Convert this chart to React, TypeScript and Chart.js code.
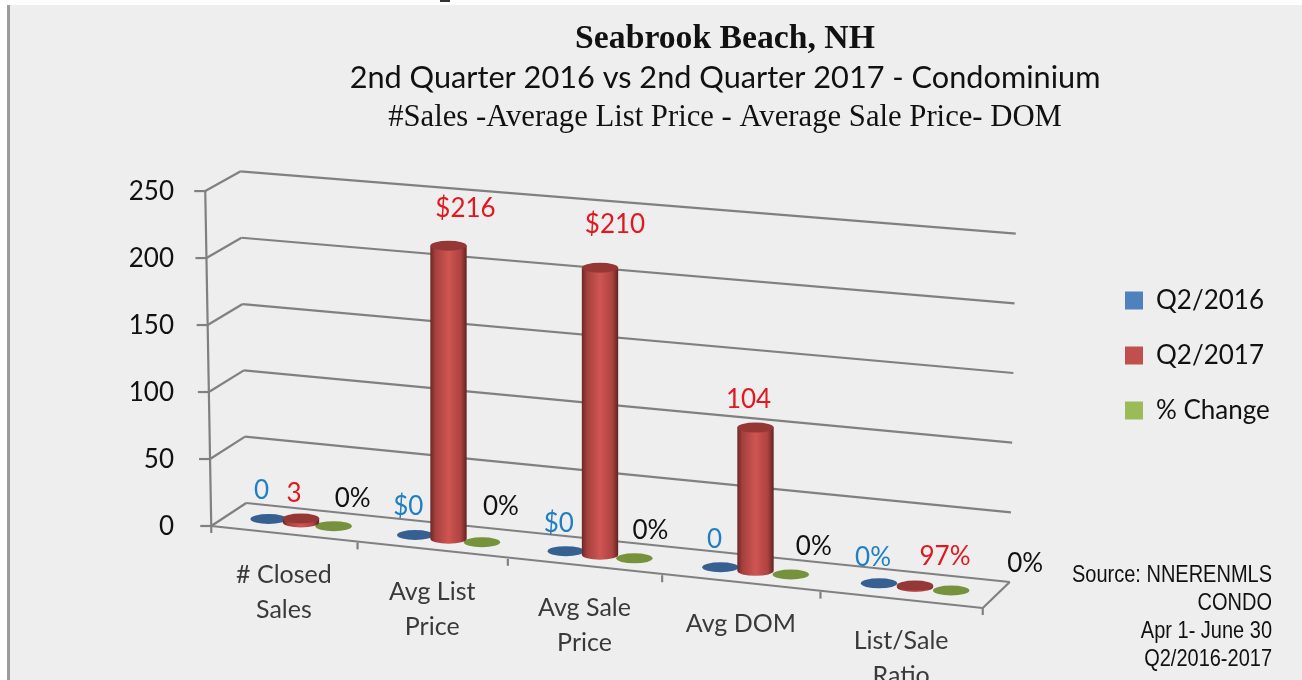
import React, { useEffect, useRef } from "react";
import { Chart, registerables } from "chart.js";

Chart.register(...registerables);

const categories = [["# Closed", "Sales"], ["Avg List", "Price"], ["Avg Sale", "Price"], ["Avg DOM"], ["List/Sale", "Ratio"]];
const seriesNames = ["Q2/2016", "Q2/2017", "% Change"];
const q2016 = [0, 0, 0, 0, 0];
const q2017 = [3, 216, 210, 104, 0.97];
const pctChange = [0, 0, 0, 0, 0];
const q2016Labels = ["0", "$0", "$0", "0", "0%"];
const q2017Labels = ["3", "$216", "$210", "104", "97%"];
const pctChangeLabels = ["0%", "0%", "0%", "0%", "0%"];
const titleLines = ["Seabrook Beach, NH", "2nd Quarter 2016 vs 2nd Quarter 2017 - Condominium", "#Sales -Average List Price - Average Sale Price- DOM"];
const sourceLines = ["Source: NNERENMLS", "CONDO", "Apr 1- June 30", "Q2/2016-2017"];

const seriesColors = ["#4f81bd", "#c0504d", "#9bbb59"];
const topColors = ["#366092", "#953735", "#76923c"];
const labelColors = ["#1f7fc1", "#e0181f", "#111111"];
const labelTexts = [q2016Labels, q2017Labels, pctChangeLabels];
const labelShiftX = [[-7, -7, -7, -6, -6], [-7, 17, 15, -7, 30], [19, 19, 16, 23, 74]];
const labelShiftY = [[-28, -28, -28, -28, -26], [-25, -37, -43, -28, -29], [-28, -36, -28, -28, -27]];

const SANS = "Lato";
const GRID = "#808080";

function project(chart: any, px: number, py: number, d: number, lean = true) {
  const { left, right, top, bottom } = chart.chartArea;
  const u = (px - left) / (right - left);
  const rise = bottom - py;
  const h = rise / (bottom - top);
  const x = 228.75 + 717.5 * u + 50 * u * u + (d - 0.5) * (35 - 8 * u) + (lean ? (u - 0.5) * 12 * h : 0);
  const backEase = Math.max(0, d - 0.5) * 0.02 * (1 - u);
  const y = 514.5 + 80.5 * u - (d - 0.5) * (23 + 3 * u) - rise * (1 + 0.04 * u - backEase);
  return { x, y };
}

function segment(ctx: CanvasRenderingContext2D, a: any, b: any) {
  ctx.beginPath();
  ctx.moveTo(a.x, a.y);
  ctx.lineTo(b.x, b.y);
  ctx.stroke();
}

function text(ctx: CanvasRenderingContext2D, s: string, x: number, y: number, font: string, color: string, align: CanvasTextAlign = "center") {
  ctx.font = font;
  ctx.fillStyle = color;
  ctx.textAlign = align;
  ctx.textBaseline = "middle";
  ctx.fillText(s, x, y);
}

function drawCylinder(ctx: CanvasRenderingContext2D, chart: any, el: any, i: number) {
  const base = project(chart, el.x, el.base, 0.5, false);
  const top = project(chart, el.x, el.y, 0.5, false);
  const rx = el.width / 2 + 0.5;
  const ry = 5;
  if (base.y - top.y > 1) {
    const g = ctx.createLinearGradient(base.x - rx, 0, base.x + rx, 0);
    g.addColorStop(0, "#6a2826");
    g.addColorStop(0.14, "#a5403d");
    g.addColorStop(0.5, "#cf5552");
    g.addColorStop(0.84, "#ad423f");
    g.addColorStop(1, "#5f2422");
    ctx.fillStyle = g;
    ctx.beginPath();
    ctx.moveTo(base.x - rx, top.y);
    ctx.lineTo(base.x - rx, base.y);
    ctx.ellipse(base.x, base.y, rx, ry, 0, Math.PI, 0, true);
    ctx.lineTo(base.x + rx, top.y);
    ctx.closePath();
    ctx.fill();
  }
  ctx.fillStyle = topColors[i];
  ctx.beginPath();
  ctx.ellipse(base.x, top.y, rx, ry, 0, 0, Math.PI * 2);
  ctx.fill();
}

const perspective = {
  id: "perspective",
  afterLayout(chart: any) {
    for (const box of chart.boxes) {
      if (box.options && box.options.text && box.options.text.length) {
        box.left = 148;
        box.right = 1302;
      }
    }
    const legend = chart.legend;
    const w = legend.right - legend.left;
    legend.left = 1125 - 29;
    legend.right = legend.left + w;
    legend.top += 93;
    legend.bottom += 93;
  },
  beforeDraw(chart: any) {
    const ctx = chart.ctx;
    ctx.save();
    ctx.fillStyle = "#ffffff";
    ctx.fillRect(0, 0, chart.width, chart.height);
    ctx.fillStyle = "#eeeeee";
    ctx.fillRect(10, 5, chart.width - 10, chart.height - 5);
    ctx.fillStyle = "#9c9c9c";
    ctx.fillRect(7, 5, 3, chart.height - 5);
    ctx.fillStyle = "#333333";
    ctx.fillRect(440, 0, 10, 2);

    text(ctx, titleLines[2], 725, 118, "30.7px 'Liberation Serif'", "#111111");

    const { left, right, bottom } = chart.chartArea;
    const yScale = chart.scales.y;
    ctx.strokeStyle = GRID;
    ctx.lineWidth = 2.2;
    for (const tick of yScale.ticks) {
      const py = yScale.getPixelForValue(tick.value);
      const a = project(chart, left, py, 0);
      const b = project(chart, left, py, 1);
      const c = project(chart, right, py, 1);
      segment(ctx, { x: a.x - 11, y: a.y }, a);
      segment(ctx, a, b);
      segment(ctx, b, c);
    }
    segment(ctx, project(chart, left, yScale.top, 0), project(chart, left, bottom, 0));
    const fl = project(chart, left, bottom, 0);
    const fr = project(chart, right, bottom, 0);
    const br = project(chart, right, bottom, 1);
    segment(ctx, fl, fr);
    segment(ctx, fr, br);
    const xScale = chart.scales.x;
    const n = categories.length;
    for (let k = 0; k <= n; k++) {
      const px = left + ((right - left) * k) / n;
      const p = project(chart, px, bottom, 0);
      segment(ctx, p, { x: p.x, y: p.y + 7 });
    }
    ctx.restore();

    ctx.save();
    categories.forEach((lines, i) => {
      const p = project(chart, xScale.getPixelForValue(i), bottom, 0);
      lines.forEach((line, j) => text(ctx, line, p.x, p.y + 41 + j * 35, `25px ${SANS}`, "#3a3a3a"));
    });
    sourceLines.forEach((line, j) => {
      ctx.save();
      ctx.translate(1272, 575 + j * 28);
      ctx.scale(0.833, 1);
      text(ctx, line, 0, 0, "24px 'Liberation Sans'", "#111111", "right");
      ctx.restore();
    });
    ctx.restore();
  },
  beforeDatasetsDraw(chart: any) {
    const ctx = chart.ctx;
    ctx.save();
    for (const i of [0, 2, 1]) {
      chart.getDatasetMeta(i).data.forEach((el: any) => drawCylinder(ctx, chart, el, i));
    }
    for (let i = 0; i < 3; i++) {
      chart.getDatasetMeta(i).data.forEach((el: any, k: number) => {
        const t = project(chart, el.x, el.y, 0.5, false);
        text(ctx, labelTexts[i][k], t.x + labelShiftX[i][k], t.y + labelShiftY[i][k], `26px ${SANS}`, labelColors[i]);
      });
    }
    ctx.restore();
    return false;
  },
};

export default function App() {
  const ref = useRef<HTMLCanvasElement | null>(null);
  useEffect(() => {
    document.body.style.margin = "0";
    const chart = new Chart(ref.current as HTMLCanvasElement, {
      type: "bar",
      data: {
        labels: categories,
        datasets: [q2016, q2017, pctChange].map((data, i) => ({
          label: seriesNames[i],
          data,
          backgroundColor: seriesColors[i],
          categoryPercentage: 0.67,
          barPercentage: 1,
        })),
      },
      options: {
        responsive: false,
        animation: false,
        events: [],
        layout: { padding: { top: 0, left: 0, right: 119, bottom: 155 } },
        plugins: {
          tooltip: { enabled: false },
          title: {
            display: true,
            text: titleLines[0],
            color: "#111111",
            font: { family: "'Liberation Serif'", size: 33.7, weight: "bold" },
            padding: { top: 18.8, bottom: 0 },
          },
          subtitle: {
            display: true,
            text: titleLines[1],
            color: "#111111",
            font: { family: SANS, size: 30.7, weight: "normal" },
            padding: { top: 0.4, bottom: 93.6 },
          },
          legend: {
            display: true,
            position: "right",
            align: "center",
            labels: {
              boxWidth: 18,
              boxHeight: 18,
              padding: 29,
              color: "#111111",
              font: { family: SANS, size: 26 },
            },
          },
        },
        scales: {
          x: {
            display: true,
            afterFit(scale: any) {
              scale.height = 0;
            },
            grid: { display: false },
            border: { display: false },
            ticks: { display: false },
          },
          y: {
            min: 0,
            max: 250,
            afterFit(scale: any) {
              scale.width = 208;
            },
            grid: { display: false },
            border: { display: false },
            ticks: {
              stepSize: 50,
              padding: 26,
              labelOffset: 2,
              color: "#111111",
              font: { family: SANS, size: 26 },
            },
          },
        },
      },
      plugins: [perspective],
    } as any);
    return () => chart.destroy();
  }, []);
  return <canvas ref={ref} width={1302} height={680} style={{ display: "block" }} />;
}
